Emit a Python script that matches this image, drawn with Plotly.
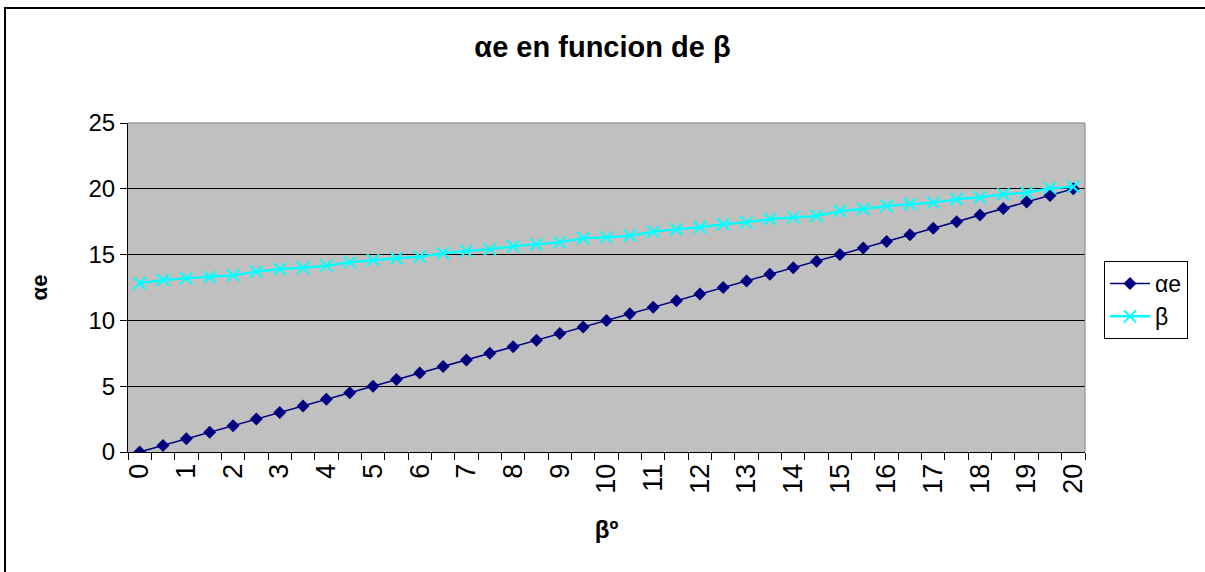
import plotly.graph_objects as go

# Beta angle (degrees), sampled every half degree
beta_deg = [0, 0.5, 1, 1.5, 2, 2.5, 3, 3.5, 4, 4.5, 5, 5.5, 6, 6.5, 7, 7.5, 8, 8.5, 9, 9.5,
            10, 10.5, 11, 11.5, 12, 12.5, 13, 13.5, 14, 14.5, 15, 15.5, 16, 16.5, 17, 17.5,
            18, 18.5, 19, 19.5, 20]

# Series values
alpha_e = [0, 0.5, 1, 1.5, 2, 2.5, 3, 3.5, 4, 4.5, 5, 5.5, 6, 6.5, 7, 7.5, 8, 8.5, 9, 9.5,
           10, 10.5, 11, 11.5, 12, 12.5, 13, 13.5, 14, 14.5, 15, 15.5, 16, 16.5, 17, 17.5,
           18, 18.5, 19, 19.5, 20]
beta_vals = [12.82, 13.07, 13.2, 13.3, 13.43, 13.7, 13.9, 14.0, 14.16, 14.41, 14.59, 14.72,
             14.84, 15.1, 15.27, 15.4, 15.63, 15.78, 15.93, 16.24, 16.31, 16.44, 16.74, 16.92,
             17.08, 17.3, 17.45, 17.7, 17.83, 17.93, 18.31, 18.46, 18.69, 18.84, 18.95, 19.2,
             19.35, 19.58, 19.7, 20.05, 20.15]

# Category labels shown on the x axis
x_tick_vals = list(range(0, 21))
x_tick_text = [str(v) for v in x_tick_vals]
y_tick_vals = [0, 5, 10, 15, 20, 25]

FONT = "Liberation Sans, Arial, sans-serif"

fig = go.Figure()
fig.add_trace(go.Scatter(
    x=beta_deg, y=alpha_e, name="αe", mode="lines+markers",
    line=dict(color="#000080", width=1.5),
    marker=dict(symbol="diamond", size=10, color="#000080"),
))
fig.add_trace(go.Scatter(
    x=beta_deg, y=beta_vals, name="β", mode="lines+markers",
    line=dict(color="#00FFFF", width=2.5),
    marker=dict(symbol="x-thin", size=12, color="#00FFFF",
                line=dict(color="#00FFFF", width=2)),
))

L, R, T, B = 128, 120, 123, 120
W, H = 1205, 572
pw, ph = W - L - R, H - T - B

def px_x(p):
    return (p - L) / pw

def px_y(p):
    return (H - B - p) / ph

fig.update_layout(
    width=W, height=H,
    margin=dict(l=L, r=R, t=T, b=B, pad=0),
    paper_bgcolor="white",
    plot_bgcolor="#C0C0C0",
    font=dict(family=FONT, color="black", size=24),
    title=dict(text="<b>αe en funcion de β</b>", x=0.5, xanchor="center",
               y=1 - 47 / H, yanchor="middle", font=dict(size=29)),
    showlegend=True,
    legend=dict(x=px_x(1104), y=px_y(261), xanchor="left", yanchor="top",
                bgcolor="white", bordercolor="black", borderwidth=1,
                font=dict(size=23), itemwidth=40, tracegroupgap=0),
    xaxis=dict(
        range=[-0.25, 20.25], tickmode="array", tickvals=x_tick_vals, ticktext=x_tick_text,
        tickangle=-90, ticks="", showgrid=False, zeroline=False,
        showline=True, linecolor="black", linewidth=1,
        tickfont=dict(size=27),
        minor=dict(ticks="outside", tick0=-0.25, dtick=0.5, ticklen=7,
                   tickcolor="black", tickwidth=1, showgrid=False),
        title=dict(text="<b>βº</b>", font=dict(size=24), standoff=28),
    ),
    yaxis=dict(
        range=[0, 25], tickmode="array", tickvals=y_tick_vals,
        ticks="outside", ticklen=7, tickcolor="black",
        showgrid=True, gridcolor="black", gridwidth=1, zeroline=False,
        showline=True, linecolor="black", linewidth=1, mirror=False,
        tickfont=dict(size=24),
        title=dict(text="<b>αe</b>", font=dict(size=22), standoff=34),
    ),
    shapes=[
        # outer chart frame
        dict(type="rect", xref="paper", yref="paper",
             x0=px_x(5), x1=px_x(1210), y0=px_y(578), y1=px_y(8),
             line=dict(color="black", width=2), layer="below"),
        # plot area border (top and right)
        dict(type="path", xref="paper", yref="paper",
             path="M 0 1 L 1 1 L 1 0", line=dict(color="#808080", width=1)),
    ],
)

fig.write_html("out.html")
